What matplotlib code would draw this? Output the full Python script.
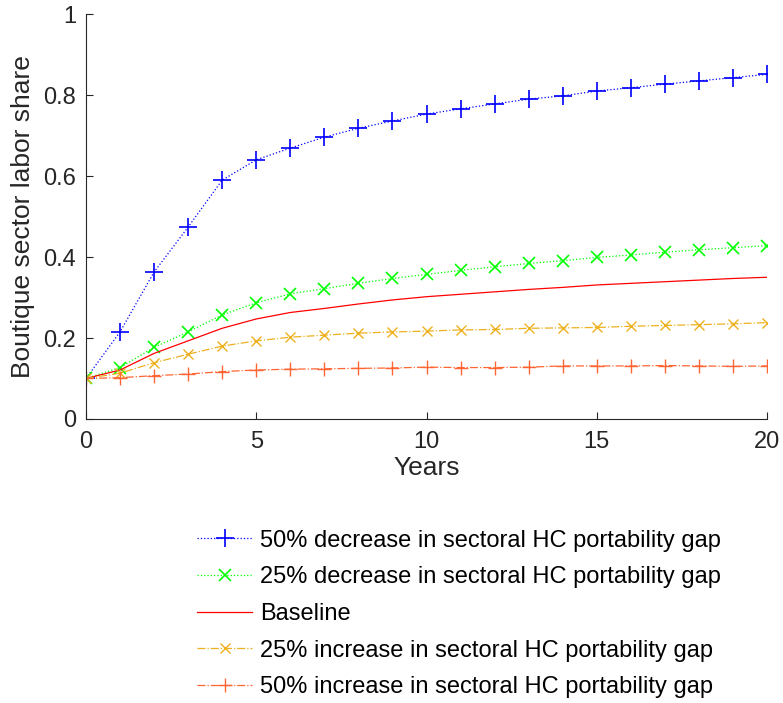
import numpy as np
import matplotlib
matplotlib.use('Agg')
import matplotlib.pyplot as plt

plt.rcParams['font.family'] = ['Liberation Sans', 'DejaVu Sans']

# Datos
years = list(range(21))
dec50 = [0.100, 0.215, 0.363, 0.474, 0.590, 0.640, 0.669, 0.696, 0.718, 0.736, 0.753,
         0.766, 0.778, 0.790, 0.798, 0.810, 0.818, 0.827, 0.835, 0.843, 0.851]
dec25 = [0.100, 0.127, 0.177, 0.215, 0.257, 0.287, 0.309, 0.322, 0.335, 0.347, 0.357,
         0.367, 0.376, 0.384, 0.391, 0.399, 0.405, 0.412, 0.418, 0.423, 0.428]
baseline = [0.100, 0.121, 0.162, 0.193, 0.224, 0.247, 0.263, 0.273, 0.284, 0.294, 0.302,
            0.308, 0.314, 0.320, 0.325, 0.331, 0.335, 0.339, 0.343, 0.347, 0.350]
inc25 = [0.100, 0.113, 0.139, 0.160, 0.180, 0.193, 0.202, 0.207, 0.212, 0.215, 0.217,
         0.220, 0.221, 0.224, 0.225, 0.226, 0.229, 0.231, 0.233, 0.235, 0.238]
inc50 = [0.100, 0.102, 0.107, 0.111, 0.117, 0.121, 0.123, 0.124, 0.125, 0.126, 0.128,
         0.127, 0.127, 0.128, 0.131, 0.131, 0.131, 0.132, 0.131, 0.130, 0.131]

labels = ['50% decrease in sectoral HC portability gap',
          '25% decrease in sectoral HC portability gap',
          'Baseline',
          '25% increase in sectoral HC portability gap',
          '50% increase in sectoral HC portability gap']

fig = plt.figure(figsize=(7.83, 7.03), dpi=100)
ax = fig.add_axes([0.1098, 0.404, 0.8698, 0.576])

ax.plot(years, dec50, color='#0000FF', linestyle=':', marker='+', markersize=13,
        markeredgewidth=1.2, linewidth=0.9, label=labels[0])
ax.plot(years, dec25, color='#00FF00', linestyle=':', marker='x', markersize=8,
        markeredgewidth=1.2, linewidth=0.9, label=labels[1])
ax.plot(years, baseline, color='#FF0000', linestyle='-', linewidth=0.9, label=labels[2])
ax.plot(years, inc25, color='#EDB120', linestyle='-.', marker='x', markersize=7,
        markeredgewidth=1.0, linewidth=0.9, label=labels[3])
ax.plot(years, inc50, color='#FF6633', linestyle='-.', marker='+', markersize=10,
        markeredgewidth=1.0, linewidth=0.9, label=labels[4])

ax.set_xlim(0, 20)
ax.set_ylim(0, 1)
ax.set_xticks([0, 5, 10, 15, 20])
ax.set_yticks([0, 0.2, 0.4, 0.6, 0.8, 1])
ax.set_yticklabels(['0', '0.2', '0.4', '0.6', '0.8', '1'])
ax.spines['top'].set_visible(False)
ax.spines['right'].set_visible(False)
for s in ['left', 'bottom']:
    ax.spines[s].set_color('#262626')
    ax.spines[s].set_linewidth(0.8)
ax.tick_params(direction='in', length=5, width=0.8, colors='#262626', labelsize=17)
ax.tick_params(axis='y', pad=7)
ax.tick_params(axis='x', pad=9)
ax.set_xlabel('Years', fontsize=19, color='#262626', labelpad=2)
ax.set_ylabel('Boutique sector labor share', fontsize=19, color='#262626', labelpad=6)

fig.legend(loc='upper left', bbox_to_anchor=(0.2396, 0.260), frameon=False, fontsize=17,
           handlelength=2.33, handletextpad=0.34, labelspacing=0.62, borderaxespad=0)

fig.savefig('out.png', dpi=100)
